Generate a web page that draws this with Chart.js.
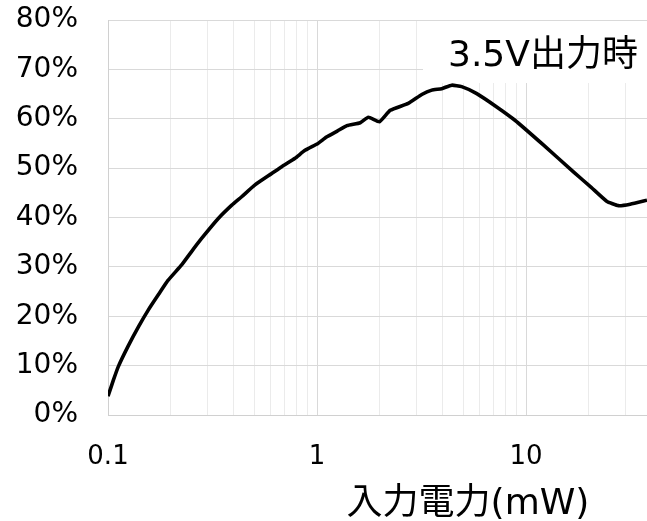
<!DOCTYPE html>
<html><head><meta charset="utf-8">
<script src="https://cdn.jsdelivr.net/npm/chart.js@4/dist/chart.umd.min.js"></script>
<style>html,body{margin:0;padding:0;background:#fff}</style>
</head><body>
<canvas id="c" width="647" height="521" style="display:block;width:647px;height:521px"></canvas>
<script>
// ---- data ----
const inputPower = [0.1, 0.106, 0.112, 0.125, 0.14, 0.156, 0.175, 0.194, 0.225, 0.25, 0.281, 0.337, 0.391, 0.436, 0.505, 0.607, 0.678, 0.785, 0.876, 1.01, 1.11, 1.25, 1.39, 1.61, 1.76, 1.99, 2.24, 2.73, 3.17, 3.54, 3.95, 4.41, 4.92, 5.81, 7.24, 8.85, 12.1, 16.8, 20.5, 24.3, 27.7, 31.5, 37.9];
const efficiency = [3.8, 7.0, 9.8, 14.0, 17.9, 21.3, 24.5, 27.3, 30.4, 33.0, 35.8, 39.8, 42.5, 44.2, 46.6, 48.9, 50.3, 52.0, 53.6, 55.0, 56.3, 57.5, 58.6, 59.2, 60.3, 59.4, 61.7, 63.1, 64.9, 65.8, 66.1, 66.8, 66.5, 65.1, 62.4, 59.7, 54.7, 49.3, 46.1, 43.3, 42.4, 42.7, 43.5];
const xTickLabels = ['0.1', '1', '10'];
const yTickLabels = ['0%', '10%', '20%', '30%', '40%', '50%', '60%', '70%', '80%'];
const seriesLabel = '3.5V出力時';
const xAxisTitle = '入力電力(mW)';

const FONT = "'DejaVu Sans', 'Noto Sans CJK JP', sans-serif";

function isPow10(v) { const l = Math.log10(v); return Math.abs(l - Math.round(l)) < 1e-6; }
function isMinor(v) { const e = Math.floor(Math.log10(v) + 1e-9); const k = v / Math.pow(10, e); return Math.abs(k - Math.round(k)) < 1e-6; }
function noPad(s) { s.paddingTop = 0; s.paddingBottom = 0; s.paddingLeft = 0; s.paddingRight = 0; }

const overlay = {
  id: 'overlay',
  beforeDatasetsDraw(chart) {
    const ctx = chart.ctx, a = chart.chartArea;
    ctx.save();
    ctx.fillStyle = '#ffffff';
    ctx.fillRect(423, a.top + 1, a.right - 423, 62);
    ctx.restore();
  },
  afterDraw(chart) {
    const ctx = chart.ctx;
    ctx.save();
    ctx.fillStyle = '#000';
    ctx.font = '36px ' + FONT;
    ctx.textAlign = 'left';
    ctx.textBaseline = 'alphabetic';
    ctx.fillText(seriesLabel, 448, 66);
    ctx.textAlign = 'center';
    ctx.fillText(xAxisTitle, 468, 514);
    ctx.restore();
  }
};

new Chart(document.getElementById('c'), {
  type: 'line',
  data: {
    datasets: [{
      label: seriesLabel,
      data: inputPower.map((x, i) => ({ x: x, y: efficiency[i] })),
      borderColor: '#000',
      borderWidth: 3.6,
      pointRadius: 0,
      tension: 0.15,
      fill: false
    }]
  },
  options: {
    responsive: false,
    animation: false,
    layout: { padding: { top: 20, right: 0, left: 0, bottom: 0 } },
    plugins: { legend: { display: false }, tooltip: { enabled: false } },
    scales: {
      x: {
        type: 'logarithmic',
        min: 0.1,
        max: 37.9,
        afterFit: s => { s.height = 106; noPad(s); },
        border: { color: '#d0d0d0', width: 1 },
        grid: {
          drawTicks: false,
          color: c => {
            const v = c.tick && c.tick.value;
            if (v == null) return 'rgba(0,0,0,0)';
            if (isPow10(v)) return '#d9d9d9';
            if (isMinor(v)) return '#ebebeb';
            return 'rgba(0,0,0,0)';
          }
        },
        ticks: {
          autoSkip: false,
          maxRotation: 0,
          padding: 27,
          color: '#000',
          font: { size: 26, family: FONT },
          callback: v => { const s = String(+(+v).toPrecision(6)); return xTickLabels.includes(s) ? s : ''; }
        }
      },
      y: {
        min: 0,
        max: 80,
        afterFit: s => { s.width = 108; noPad(s); },
        border: { color: '#d0d0d0', width: 1 },
        grid: { drawTicks: false, color: '#d9d9d9' },
        ticks: {
          stepSize: 10,
          padding: 30,
          color: '#000',
          font: { size: 28, family: FONT },
          callback: v => yTickLabels[Math.round(v / 10)]
        }
      }
    }
  },
  plugins: [overlay]
});
</script>
</body></html>
